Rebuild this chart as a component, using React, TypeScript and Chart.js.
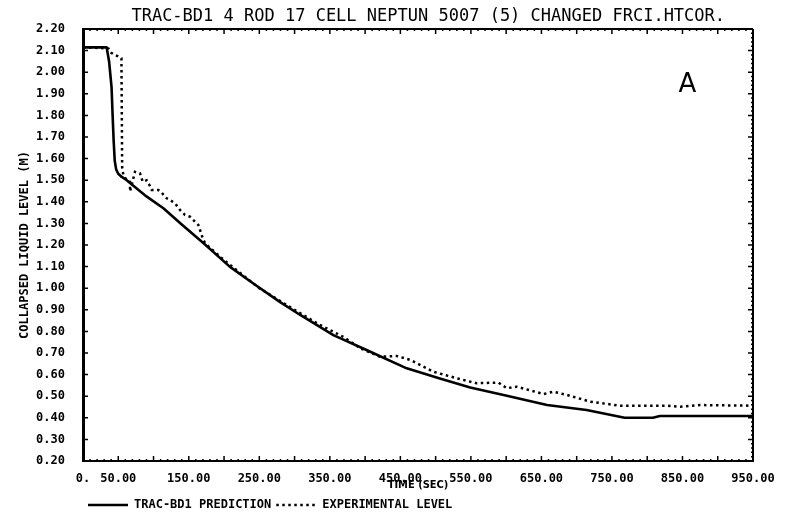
import React, { useEffect, useRef } from "react";
import { Chart, registerables } from "chart.js";

Chart.register(...registerables);

// ---- data ----
const predictionTime = [0, 33.5, 37, 40.5, 42, 43.5, 45, 47, 50, 55, 62, 71, 90, 114, 140, 171, 208, 241, 279, 308, 355, 402, 459, 506, 549, 601, 658, 714, 768, 808, 818, 950];
const predictionLevel = [2.115, 2.115, 2.05, 1.93, 1.8, 1.68, 1.59, 1.55, 1.53, 1.515, 1.5, 1.475, 1.425, 1.37, 1.295, 1.208, 1.1, 1.023, 0.937, 0.876, 0.783, 0.714, 0.629, 0.582, 0.54, 0.502, 0.459, 0.436, 0.4, 0.4, 0.408, 0.408];

const experimentTime = [0, 36, 40, 45, 52, 54.5, 55.5, 57.2, 62, 66.7, 66.7, 73.7, 80.8, 84.7, 90.3, 95, 97.4, 106.8, 111.6, 118.7, 123.4, 130.5, 137.5, 144.6, 151.7, 158.8, 163.5, 165.9, 168.3, 170.6, 174, 200, 250, 300, 336, 369, 393, 421, 445, 464, 497, 530, 558, 589, 601, 615, 653, 667, 686, 719, 761, 828, 847, 875, 950];
const experimentLevel = [2.115, 2.11, 2.09, 2.08, 2.07, 2.065, 1.56, 1.524, 1.5, 1.493, 1.447, 1.539, 1.532, 1.493, 1.5, 1.473, 1.455, 1.455, 1.442, 1.416, 1.408, 1.393, 1.362, 1.339, 1.331, 1.308, 1.293, 1.27, 1.246, 1.223, 1.205, 1.13, 1.0, 0.9, 0.83, 0.775, 0.722, 0.683, 0.686, 0.668, 0.613, 0.583, 0.56, 0.563, 0.537, 0.544, 0.51, 0.521, 0.506, 0.475, 0.456, 0.456, 0.451, 0.459, 0.456];

const xTickValues = [0, 50, 150, 250, 350, 450, 550, 650, 750, 850, 950];
const xMin = 0;
const xMax = 950;
const yMin = 0.2;
const yMax = 2.2;
const yStep = 0.1;

const chartTitle = "TRAC-BD1 4 ROD 17 CELL NEPTUN 5007 (5) CHANGED FRCI.HTCOR.";
const xTitle = "TIME (SEC)";
const yTitle = "COLLAPSED LIQUID LEVEL (M)";
const seriesNames = ["TRAC-BD1 PREDICTION", "EXPERIMENTAL LEVEL"];
const panelLetter = "A";
const panelLetterPos = { x: 857, y: 1.94 };

const MONO = '"DejaVu Sans Mono", "Liberation Mono", monospace';
const NARROW = '"DejaVu Sans Condensed", "Liberation Sans Narrow", "DejaVu Sans Mono", monospace';

const framePlugin = {
  id: "frameTicks",
  afterDatasetsDraw(chart: any) {
    const { ctx, chartArea, scales } = chart;
    const { left, right, top, bottom } = chartArea;
    const x = scales.x;
    const y = scales.y;
    ctx.save();
    ctx.strokeStyle = "#000";
    ctx.fillStyle = "#000";
    ctx.lineWidth = 2;
    ctx.beginPath();
    ctx.moveTo(left, top);
    ctx.lineTo(right, top);
    ctx.moveTo(right, top);
    ctx.lineTo(right, bottom);
    ctx.stroke();

    ctx.lineWidth = 1.5;
    for (let v = xMin; v <= xMax + 0.001; v += 10) {
      const px = x.getPixelForValue(v);
      const major = Math.round(v) % 50 === 0;
      const len = major ? 5 : 2;
      ctx.beginPath();
      ctx.moveTo(px, bottom);
      ctx.lineTo(px, bottom - len);
      ctx.moveTo(px, top);
      ctx.lineTo(px, top + len);
      ctx.stroke();
    }
    const nMinor = Math.round((yMax - yMin) / 0.02);
    for (let i = 0; i <= nMinor; i++) {
      const v = yMin + i * 0.02;
      const py = y.getPixelForValue(v);
      const major = i % 5 === 0;
      const len = major ? 5 : 2;
      ctx.beginPath();
      ctx.moveTo(left, py);
      ctx.lineTo(left + len, py);
      ctx.moveTo(right, py);
      ctx.lineTo(right - len, py);
      ctx.stroke();
    }

    ctx.font = '26px "DejaVu Sans", sans-serif';
    ctx.textAlign = "center";
    ctx.textBaseline = "middle";
    ctx.fillText(panelLetter, x.getPixelForValue(panelLetterPos.x), y.getPixelForValue(panelLetterPos.y));
    ctx.restore();
  },
};

export default function App() {
  const ref = useRef<HTMLCanvasElement>(null);

  useEffect(() => {
    if (!ref.current) return;
    const chart = new Chart(ref.current, {
      type: "line",
      data: {
        datasets: [
          {
            label: seriesNames[0],
            data: predictionTime.map((t, i) => ({ x: t, y: predictionLevel[i] })),
            borderColor: "#000",
            backgroundColor: "#000",
            borderWidth: 2.6,
            borderJoinStyle: "round",
            pointRadius: 0,
            tension: 0,
          },
          {
            label: seriesNames[1],
            data: experimentTime.map((t, i) => ({ x: t, y: experimentLevel[i] })),
            borderColor: "#000",
            backgroundColor: "#000",
            borderWidth: 2.5,
            borderDash: [2.5, 3.5],
            pointRadius: 0,
            tension: 0,
          },
        ],
      },
      plugins: [framePlugin],
      options: {
        responsive: false,
        animation: false,
        devicePixelRatio: 1,
        layout: { padding: { left: 0, right: 34, top: 0, bottom: -5 } },
        plugins: {
          title: {
            display: true,
            text: "  " + chartTitle,
            fullSize: false,
            color: "#000",
            font: { family: MONO, size: 17, weight: "normal", lineHeight: 1.2 },
            padding: { top: 6, bottom: 2.6 },
          },
          legend: {
            display: true,
            position: "bottom",
            align: "start",
            fullSize: false,
            labels: {
              color: "#000",
              font: { family: MONO, size: 12, weight: "bold" },
              usePointStyle: true,
              pointStyle: "line",
              pointStyleWidth: 40,
              boxHeight: 12,
              padding: 5,
              generateLabels: (chart: any) => {
                const items = Chart.defaults.plugins.legend.labels.generateLabels(chart);
                return items.map((it: any) => {
                  const ds = chart.data.datasets[it.datasetIndex];
                  return { ...it, lineDash: ds.borderDash || [], lineWidth: ds.borderWidth, strokeStyle: "#000", fillStyle: "#000", pointStyle: "line" };
                });
              },
            },
          },
          tooltip: { enabled: false },
        },
        scales: {
          x: {
            type: "linear",
            min: xMin,
            max: xMax,
            afterBuildTicks: (scale: any) => {
              scale.ticks = xTickValues.map((v) => ({ value: v }));
            },
            afterFit: (scale: any) => {
              scale.height = 33;
            },
            ticks: {
              autoSkip: false,
              maxRotation: 0,
              padding: 3,
              color: "#000",
              font: { family: MONO, size: 12, weight: "bold" },
              callback: (v: any) => (Number(v) === 0 ? "0." : Number(v).toFixed(2)),
            },
            grid: { display: false },
            border: { display: true, color: "#000", width: 2 },
            title: {
              display: true,
              text: xTitle,
              color: "#000",
              font: { family: NARROW, size: 11, weight: "bold", lineHeight: 1.2 },
              padding: { top: 0, bottom: 2 },
            },
          },
          y: {
            type: "linear",
            min: yMin,
            max: yMax,
            afterFit: (scale: any) => {
              scale.width = 83;
            },
            ticks: {
              stepSize: yStep,
              autoSkip: false,
              padding: 10,
              color: "#000",
              font: { family: MONO, size: 12, weight: "bold" },
              callback: (v: any) => Number(v).toFixed(2),
            },
            grid: { display: false },
            border: { display: true, color: "#000", width: 3 },
            title: {
              display: true,
              text: yTitle,
              color: "#000",
              font: { family: MONO, size: 12, weight: "bold", lineHeight: 1.2 },
              padding: { top: 18, bottom: 0 },
            },
          },
        },
      },
    } as any);
    return () => chart.destroy();
  }, []);

  return (
    <div style={{ position: "fixed", left: 0, top: 0, width: 787, height: 516, background: "#fff" }}>
      <canvas ref={ref} width={787} height={516} style={{ width: 787, height: 516, display: "block" }} />
    </div>
  );
}
